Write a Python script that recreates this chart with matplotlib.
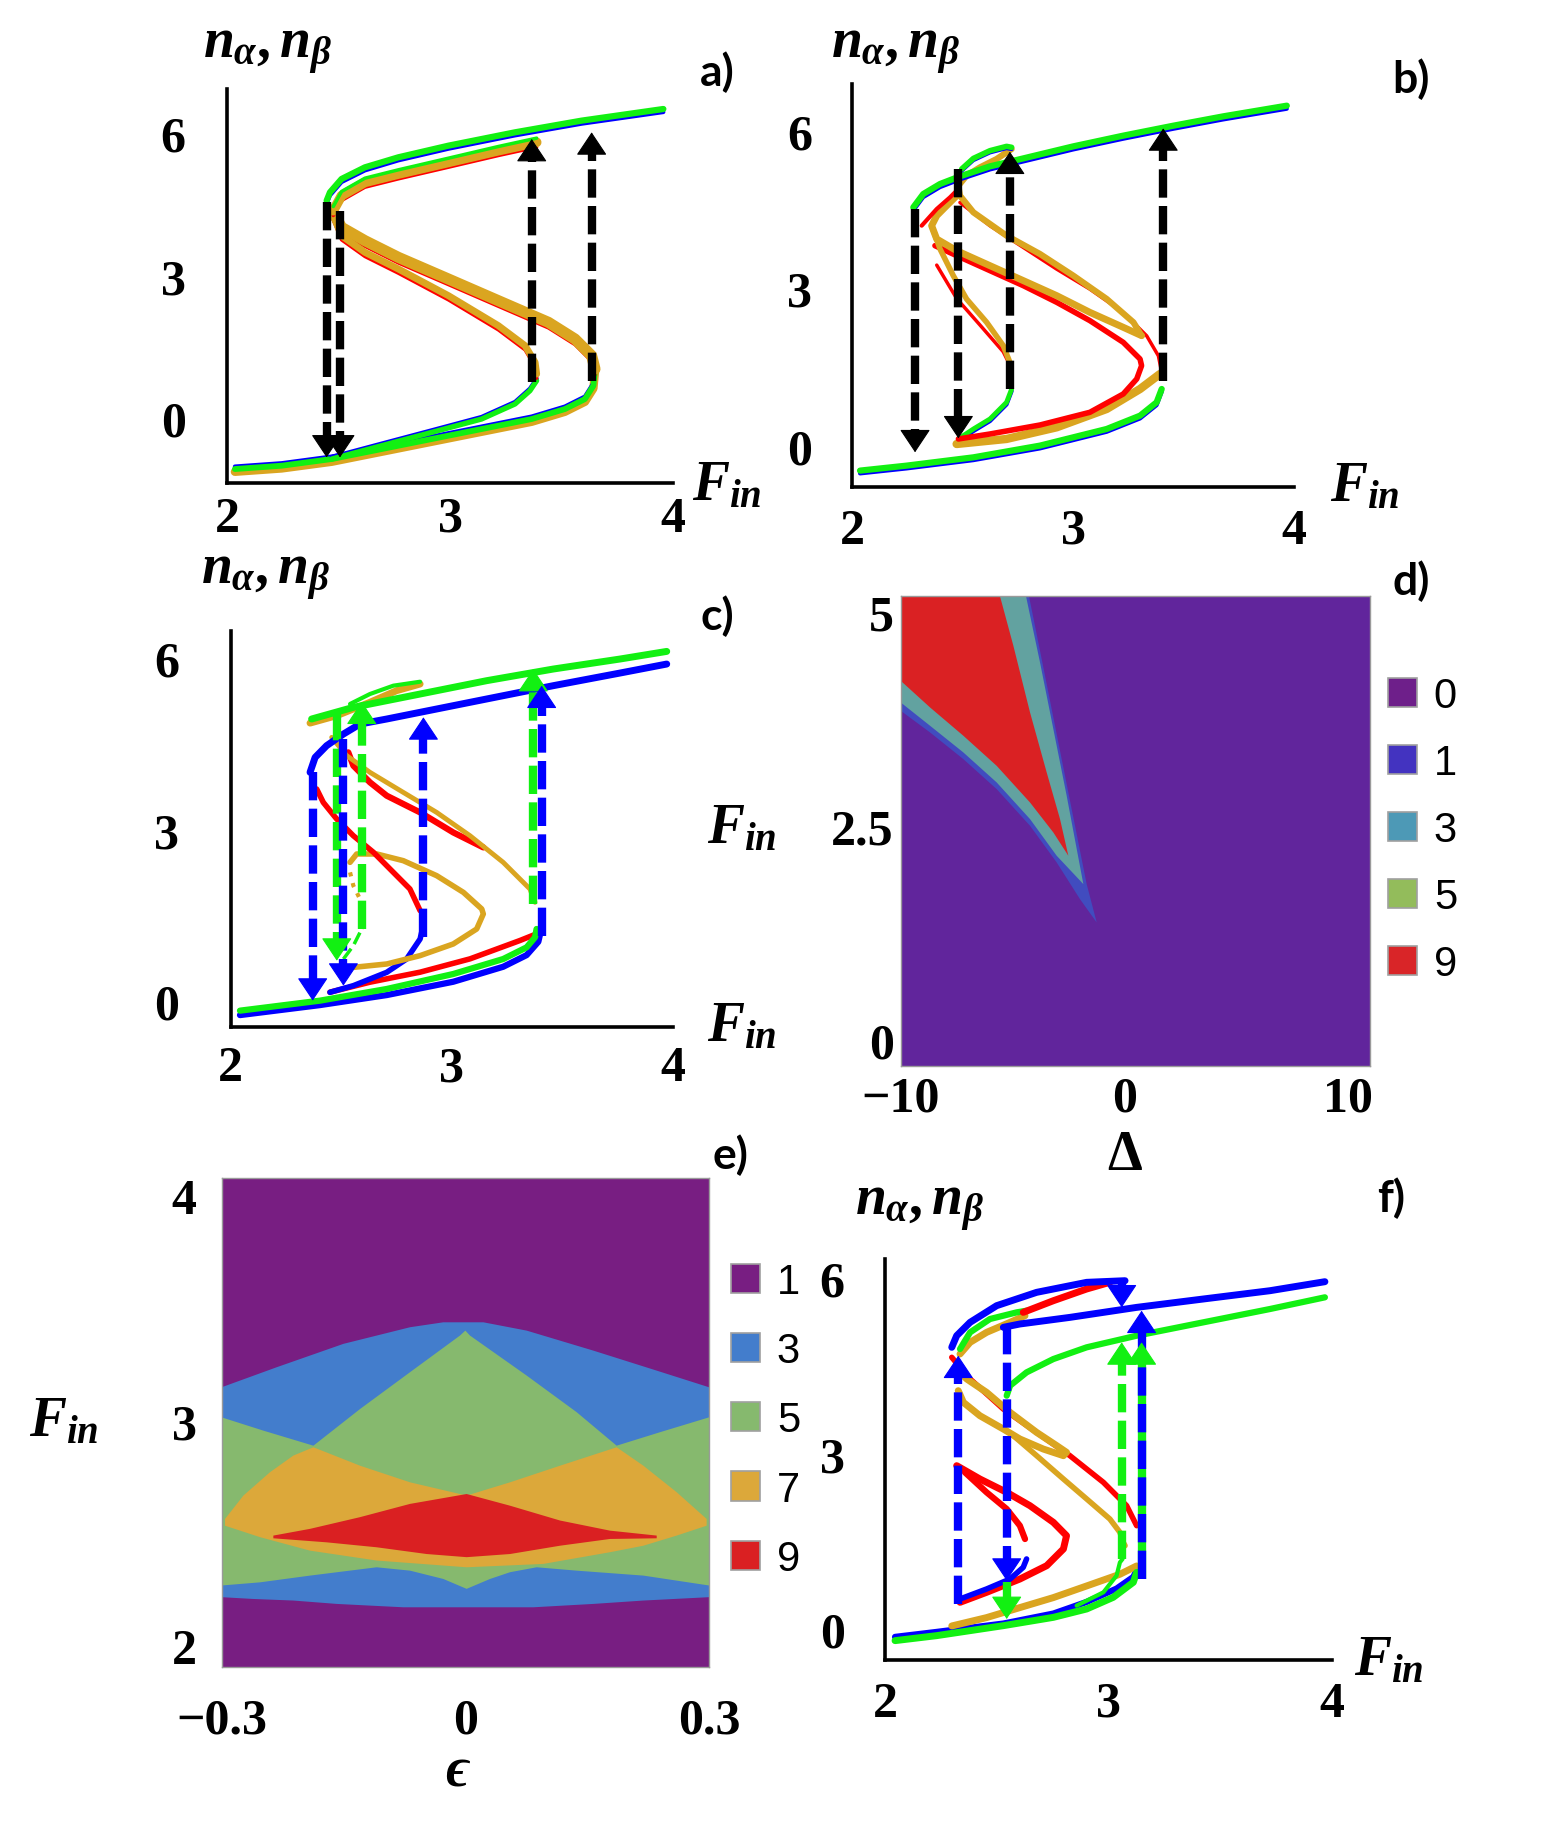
import matplotlib
matplotlib.use("Agg")
import matplotlib.pyplot as plt
import matplotlib.transforms as mtransforms
from matplotlib.patches import Patch

W, H = 1549, 1824
plt.rcParams['mathtext.fontset'] = 'custom'
plt.rcParams['mathtext.it'] = 'Liberation Serif:italic:bold'
plt.rcParams['mathtext.rm'] = 'Liberation Serif:bold'
plt.rcParams['mathtext.bf'] = 'Liberation Serif:bold'

GREEN = '#12F012'
BLUE = '#0000FF'
RED = '#FF0000'
ORANGE = '#DAA520'
BLACK = '#000000'

TICK_FONT = dict(fontsize=36, fontweight='bold', fontfamily='Liberation Serif')
LAB_SIZE = 40
LETTER = dict(fontsize=32, fontweight='bold', fontfamily='Lato')

# ---------------- panel a data (F_in, n) ----------------
a_up_out = ([2.446, 2.461, 2.513, 2.618, 2.768, 2.993, 3.292, 3.591, 3.958],
            [4.575, 4.751, 5.032, 5.277, 5.488, 5.733, 6.014, 6.26, 6.505])
a_up_in = ([2.476, 2.513, 2.618, 2.768, 2.993, 3.217, 3.389],
           [4.365, 4.681, 4.961, 5.137, 5.382, 5.628, 5.804])
a_mid_out = ([2.476, 2.513, 2.618, 2.768, 2.993, 3.217, 3.442, 3.561, 3.636, 3.651],
             [4.33, 4.014, 3.733, 3.382, 2.926, 2.47, 2.014, 1.663, 1.312, 1.032])
a_mid_in = ([2.476, 2.513, 2.618, 2.768, 2.993, 3.217, 3.337, 3.382, 3.389],
            [4.26, 3.839, 3.488, 3.137, 2.575, 1.944, 1.523, 1.172, 0.926])
a_low_out = ([2.034, 2.244, 2.469, 2.693, 2.918, 3.142, 3.367, 3.516, 3.606, 3.644, 3.651],
             [-1.074, -1.004, -0.863, -0.653, -0.442, -0.232, -0.021, 0.189, 0.4, 0.681, 1.032])
a_low_in = ([2.469, 2.693, 2.918, 3.142, 3.292, 3.359, 3.389],
            [-0.863, -0.582, -0.302, -0.021, 0.295, 0.575, 0.786])
a_arrows = [(2.446, 4.54, -0.83), (2.506, 4.365, -0.83), (3.367, 0.75, 5.874), (3.636, 0.786, 6.014)]

# ---------------- panel b data ----------------
b_up = ([2.276, 2.321, 2.397, 2.487, 2.623, 2.774, 3.0, 3.226, 3.453, 3.679, 3.966],
        [4.538, 4.792, 4.983, 5.129, 5.319, 5.471, 5.7, 5.904, 6.094, 6.272, 6.475])
b_loop = ([2.495, 2.548, 2.623, 2.698, 2.721], [5.269, 5.471, 5.618, 5.7, 5.682])
b_or1 = ([2.721, 2.653, 2.578, 2.517, 2.48, 2.487, 2.548, 2.698, 2.849, 3.0, 3.151, 3.272, 3.309],
         [5.65, 5.459, 5.3, 5.142, 4.951, 4.761, 4.443, 3.999, 3.65, 3.237, 2.793, 2.348, 2.094])
b_or2 = ([3.309, 3.226, 3.075, 2.925, 2.774, 2.623, 2.472, 2.382, 2.359, 2.382, 2.442, 2.48],
         [2.094, 2.253, 2.538, 2.856, 3.142, 3.427, 3.713, 3.935, 4.189, 4.38, 4.634, 4.792])
b_or3 = ([2.359, 2.397, 2.457, 2.517, 2.608, 2.683, 2.713],
         [4.189, 3.745, 3.237, 2.793, 2.348, 1.904, 1.586])
b_or4 = ([2.472, 2.698, 2.925, 3.151, 3.302, 3.392], [0.03, 0.126, 0.348, 0.697, 1.078, 1.364])
b_red1 = ([2.314, 2.382, 2.442, 2.487], [4.189, 4.507, 4.729, 4.919])
b_red2 = ([2.374, 2.472, 2.623, 2.774, 2.925, 3.075, 3.226, 3.302, 3.309, 3.287, 3.226, 3.075, 2.849, 2.623, 2.48],
          [3.808, 3.618, 3.332, 3.046, 2.729, 2.38, 1.967, 1.649, 1.522, 1.269, 0.983, 0.634, 0.392, 0.221, 0.126])
b_red3 = ([2.487, 2.623, 2.774, 2.925, 3.075, 3.226, 3.332, 3.385, 3.4],
          [4.697, 4.253, 3.84, 3.427, 3.046, 2.602, 2.157, 1.776, 1.459])
b_red4 = ([2.382, 2.472, 2.578, 2.683, 2.713], [3.491, 2.856, 2.348, 1.84, 1.586])
b_low = ([2.035, 2.246, 2.548, 2.849, 3.151, 3.302, 3.377, 3.4],
         [-0.477, -0.382, -0.224, -0.001, 0.316, 0.57, 0.824, 1.078])
b_low2 = ([2.48, 2.548, 2.623, 2.698, 2.721], [0.126, 0.316, 0.507, 0.824, 1.078])
b_arrows = [(2.284, 4.507, -0.128), (2.48, 5.269, 0.138), (2.713, 1.078, 5.599), (3.407, 1.237, 6.043)]

# ---------------- panel c data ----------------
c_green_up = ([2.366, 2.555, 2.857, 3.158, 3.46, 3.762, 3.973], [4.937, 5.141, 5.374, 5.607, 5.811, 5.986, 6.119])
c_orange_top = ([2.359, 2.48, 2.63, 2.751, 2.857], [4.866, 4.996, 5.229, 5.433, 5.549])
c_green_arc = ([2.54, 2.63, 2.736, 2.857], [5.2, 5.374, 5.52, 5.589])
c_blue_up = ([2.359, 2.382, 2.434, 2.51, 2.585, 2.706, 2.857, 3.158, 3.46, 3.762, 3.973],
             [4.005, 4.266, 4.471, 4.674, 4.849, 4.937, 5.054, 5.287, 5.52, 5.741, 5.898])
c_red1 = ([2.389, 2.419, 2.48, 2.555, 2.646, 2.736, 2.811, 2.857], [3.713, 3.479, 3.187, 2.896, 2.606, 2.256, 1.965, 1.587])
c_red2 = ([2.532, 2.555, 2.63, 2.706, 2.857, 3.007, 3.143], [4.354, 4.121, 3.83, 3.596, 3.304, 2.954, 2.692])
c_red_low = ([2.449, 2.63, 2.857, 3.083, 3.309, 3.384], [0.1, 0.275, 0.45, 0.683, 1.004, 1.12])
c_orange1 = ([2.457, 2.525, 2.63, 2.781, 2.932, 3.083, 3.233, 3.354, 3.377],
             [4.616, 4.296, 4.005, 3.654, 3.304, 2.896, 2.431, 1.965, 1.732])
c_orange2 = ([2.54, 2.57, 2.661, 2.781, 2.932, 3.053, 3.136, 3.143, 3.113, 3.007, 2.857, 2.706, 2.555],
             [2.431, 2.577, 2.577, 2.46, 2.198, 1.906, 1.616, 1.528, 1.266, 1.004, 0.8, 0.654, 0.595])
c_orange_dots = ([2.54, 2.555, 2.585, 2.6, 2.593], [2.256, 2.023, 1.79, 1.441, 1.266])
c_blue_low2 = ([2.449, 2.555, 2.706, 2.796, 2.857, 2.864], [0.159, 0.275, 0.508, 0.741, 1.091, 1.208])
c_blue_low = ([2.042, 2.404, 2.706, 3.007, 3.233, 3.339, 3.392, 3.399],
              [-0.191, -0.016, 0.159, 0.392, 0.654, 0.858, 1.091, 1.208])
c_green_low = ([2.042, 2.404, 2.706, 3.007, 3.233, 3.339, 3.377, 3.384],
               [-0.162, 0.013, 0.217, 0.479, 0.741, 0.945, 1.12, 1.266])
c_green_small = ([2.51, 2.555, 2.593], [0.741, 0.974, 1.266])
c_arrows_blue = [(2.371, 4.005, 0.013), (2.51, 4.587, 0.275), (2.872, 1.12, 4.967), (3.407, 1.149, 5.52)]
c_arrows_green = [(2.48, 5.054, 0.712), (2.593, 1.266, 5.24), (3.369, 1.703, 5.811)]

# ---------------- panel f data ----------------
f_blue_arc = ([2.299, 2.321, 2.381, 2.5, 2.679, 2.903, 3.075], [4.822, 5.021, 5.249, 5.534, 5.762, 5.933, 5.961])
f_red_up = ([2.619, 2.754, 2.903, 3.007], [5.42, 5.619, 5.819, 5.933])
f_green_arc = ([2.336, 2.381, 2.47, 2.59, 2.634], [4.793, 5.078, 5.306, 5.42, 5.448])
f_blue_main = ([2.53, 2.604, 2.828, 3.127, 3.425, 3.724, 3.97], [5.164, 5.221, 5.334, 5.505, 5.648, 5.79, 5.944])
f_green_main = ([2.545, 2.56, 2.634, 2.754, 2.903, 3.127, 3.425, 3.724, 3.97],
                [3.995, 4.166, 4.394, 4.622, 4.822, 5.021, 5.249, 5.477, 5.677])
f_orange1 = ([2.336, 2.381, 2.455, 2.56, 2.627], [4.708, 4.907, 5.078, 5.249, 5.363])
f_orange_loop = ([2.328, 2.351, 2.425, 2.53, 2.604, 2.709, 2.799, 2.813, 2.769, 2.679, 2.56, 2.455, 2.366, 2.336],
                 [4.081, 3.881, 3.653, 3.425, 3.255, 3.083, 2.97, 3.027, 3.141, 3.368, 3.71, 4.052, 4.281, 4.394])
f_orange_long = ([2.575, 2.679, 2.799, 2.903, 3.007, 3.052, 3.067, 3.075],
                 [3.311, 2.97, 2.571, 2.23, 1.887, 1.659, 1.488, 1.431])
f_orange_low = ([2.299, 2.455, 2.604, 2.754, 2.903, 3.052, 3.127], [0.035, 0.178, 0.349, 0.52, 0.719, 0.919, 1.061])
f_red1 = ([2.299, 2.381, 2.53, 2.679, 2.828, 2.978, 3.082, 3.127], [4.651, 4.281, 3.767, 3.368, 2.97, 2.514, 2.115, 1.773])
f_red2 = ([2.321, 2.425, 2.545, 2.649, 2.754, 2.813, 2.799, 2.724, 2.604, 2.455, 2.336],
          [2.799, 2.571, 2.343, 2.115, 1.83, 1.602, 1.375, 1.089, 0.861, 0.634, 0.463])
f_red3 = ([2.358, 2.455, 2.545, 2.604, 2.627], [2.685, 2.343, 2.058, 1.773, 1.545])
f_blue_low2 = ([2.336, 2.455, 2.56, 2.619, 2.634], [0.52, 0.691, 0.861, 1.061, 1.204])
f_blue_low = ([2.045, 2.231, 2.53, 2.754, 2.903, 3.037, 3.112, 3.127], [-0.164, -0.079, 0.064, 0.235, 0.434, 0.662, 0.861, 0.975])
f_green_low = ([2.045, 2.231, 2.53, 2.754, 2.903, 3.022, 3.112, 3.127], [-0.192, -0.107, 0.064, 0.206, 0.349, 0.548, 0.805, 0.975])
f_green_small = ([2.858, 2.978, 3.037, 3.052, 3.064], [0.406, 0.634, 0.919, 1.146, 1.204])
f_arrows_blue = [(2.328, 0.434, 4.679), (2.545, 5.192, 0.833), (3.06, 5.99, 5.505)]
f_arrows_green = [(2.545, 0.805, 0.178), (3.06, 1.204, 4.907)]
f_solid_green = (3.149, 0.861, 4.907)
f_blue_over = (3.149, 0.861, 5.448)

# ---------------- panel d (Delta, F_in) regions ----------------
d_colors = {'0': '#61259C', '1': '#414CBF', '3': '#62A2A0', '9': '#DA2123'}
d_legend_labels = ['0', '1', '3', '5', '9']
d_legend_colors = ['#6E1F8A', '#4333C0', '#4D99B6', '#93BC5B', '#D92528']
d_region1 = ([-10, -4.258, -3.661, -3.065, -2.468, -1.678, -1.23, -1.976, -3.02, -4.213, -5.705, -7.196, -8.688, -10],
             [5.18, 5.18, 4.408, 3.63, 2.851, 1.82, 1.372, 1.644, 2.073, 2.501, 2.929, 3.279, 3.591, 3.844])
d_region3 = ([-10, -4.392, -3.766, -3.169, -2.573, -1.827, -3.02, -4.213, -5.705, -7.196, -8.688, -10],
             [5.18, 5.18, 4.408, 3.63, 2.851, 1.82, 2.151, 2.579, 3.007, 3.357, 3.669, 3.941])
d_region9 = ([-10, -5.556, -4.959, -4.213, -3.468, -2.871, -2.498, -3.169, -4.213, -5.705, -7.196, -8.688, -10],
             [5.18, 5.18, 4.603, 3.824, 3.124, 2.579, 2.151, 2.423, 2.773, 3.201, 3.552, 3.883, 4.194])

# ---------------- panel e (epsilon, F_in) regions ----------------
e_legend_labels = ['1', '3', '5', '7', '9']
e_colors = ['#781E82', '#437DCC', '#86B96E', '#DCA83A', '#DA2022']
e_region3 = ([-0.3, -0.2323, -0.1502, -0.0681, -0.0271, 0.0222, 0.0755, 0.1576, 0.2356, 0.3,
              0.3, 0.2192, 0.1576, 0.0837, -0.0763, -0.1584, -0.2118, -0.261, -0.3],
             [3.149, 3.238, 3.342, 3.416, 3.438, 3.438, 3.401, 3.312, 3.223, 3.149,
              2.215, 2.200, 2.185, 2.170, 2.170, 2.185, 2.200, 2.207, 2.215])
e_region5 = ([-0.3, -0.2487, -0.1871, -0.1297, -0.0681, -0.0066, 0.0, 0.0057, 0.0755, 0.1371, 0.1863, 0.2397, 0.3,
              0.3, 0.2192, 0.1371, 0.0878, 0.055, 0.0304, 0.0016, -0.0271, -0.0681, -0.1092, -0.1912, -0.2528, -0.3],
             [3.015, 2.956, 2.889, 3.052, 3.216, 3.379, 3.401, 3.379, 3.201, 3.038, 2.889, 2.949, 3.015,
              2.267, 2.311, 2.333, 2.348, 2.326, 2.296, 2.252, 2.296, 2.333, 2.348, 2.311, 2.281, 2.267])
e_region7 = ([-0.2959, -0.2733, -0.2405, -0.2118, -0.1871, -0.1297, -0.0681, 0.0016, 0.055, 0.1166, 0.1863, 0.2192, 0.2602, 0.2971,
              0.2971, 0.2602, 0.2192, 0.1781, 0.0960, 0.0016, -0.1092, -0.1912, -0.2528, -0.2959],
             [2.563, 2.667, 2.771, 2.845, 2.882, 2.800, 2.726, 2.667, 2.726, 2.800, 2.882, 2.800, 2.682, 2.563,
              2.533, 2.489, 2.444, 2.415, 2.363, 2.348, 2.378, 2.422, 2.482, 2.533])
e_region9 = ([-0.2364, -0.1912, -0.1297, -0.0681, 0.0016, 0.055, 0.1166, 0.1781, 0.2356,
              0.2356, 0.1781, 0.1166, 0.055, 0.0016, -0.0476, -0.1092, -0.1707, -0.2364],
             [2.489, 2.519, 2.571, 2.630, 2.674, 2.622, 2.556, 2.511, 2.489,
              2.477, 2.474, 2.444, 2.407, 2.393, 2.407, 2.437, 2.459, 2.477])

fig = plt.figure(figsize=(W / 100, H / 100), dpi=100)


def axes_px(x0, y0, x1, y1):
    return fig.add_axes([x0 / W, 1 - y1 / H, (x1 - x0) / W, (y1 - y0) / H])


def ftext(x, y, s, **kw):
    kw.setdefault('ha', 'center')
    kw.setdefault('va', 'center')
    fig.text(x / W, 1 - y / H, s, **kw)


def line_axes(box, ylim, ypad, xpad):
    ax = axes_px(*box)
    ax.set_xlim(2, 4)
    ax.set_ylim(*ylim)
    for s in ['top', 'right']:
        ax.spines[s].set_visible(False)
    for s in ['left', 'bottom']:
        ax.spines[s].set_linewidth(2.6)
    ax.set_xticks([2, 3, 4], labels=['2', '3', '4'], **TICK_FONT)
    ax.set_yticks([0, 3, 6], labels=['0', '3', '6'], **TICK_FONT)
    ax.tick_params(axis='y', length=0, pad=ypad)
    ax.tick_params(axis='x', length=0, pad=xpad)
    ax.patch.set_alpha(0)
    return ax


def draw(ax, xy, color, lw, dy=0.0, z=3, ls='-'):
    tr = mtransforms.offset_copy(ax.transData, fig=fig, x=0, y=dy, units='points') if dy else ax.transData
    ax.plot(xy[0], xy[1], color=color, lw=lw, ls=ls, transform=tr, zorder=z,
            solid_capstyle='round', solid_joinstyle='round', clip_on=False)


def arrow(ax, F, n_from, n_to, color, dashed=True, lw=6.0, hw=20.0, hl=15.0, z=6, head=True, shaft=True):
    y0 = ax.transData.transform((F, 0.0))[1]
    y1 = ax.transData.transform((F, 1.0))[1]
    ppu = y1 - y0
    hl_d = hl * fig.dpi / 72.0 / ppu
    s = 1.0 if n_to > n_from else -1.0
    n_base = n_to - s * hl_d
    if shaft:
        if dashed:
            ax.plot([F, F], [n_from, n_base], color=color, lw=lw, dashes=(3.4, 1.0),
                    dash_capstyle='butt', zorder=z, clip_on=False)
        else:
            ax.plot([F, F], [n_from, n_base], color=color, lw=lw, solid_capstyle='butt', zorder=z, clip_on=False)
    if head:
        ax.annotate('', xy=(F, n_to), xytext=(F, n_base), annotation_clip=False,
                    arrowprops=dict(arrowstyle='-|>,head_length=%.3f,head_width=%.3f' % (hl / 10, hw / 20),
                                    color=color, lw=0.8, mutation_scale=10, shrinkA=0, shrinkB=0), zorder=z + 1)


nlab = r'$n_{\alpha}, n_{\beta}$'
flab = r'$F_{in}$'

# ================= panel a =================
ax = line_axes((227.3, 90, 672.7, 484), (-1.368, 6.926), 30, 9)
draw(ax, a_low_out, ORANGE, 6, dy=-2.0)
draw(ax, a_low_out, BLUE, 3, dy=1.8)
draw(ax, a_low_out, GREEN, 4.2)
draw(ax, a_low_in, BLUE, 3, dy=1.5)
draw(ax, a_low_in, GREEN, 3.8)
draw(ax, a_up_out, BLUE, 3, dy=-2.2)
draw(ax, a_up_out, GREEN, 4.5)
draw(ax, a_mid_out, RED, 2.5, dy=-4.0)
draw(ax, a_mid_out, ORANGE, 8)
draw(ax, a_mid_in, RED, 2.5, dy=-3.0)
draw(ax, a_mid_in, ORANGE, 5)
draw(ax, a_up_in, RED, 2.5, dy=-3.5)
draw(ax, a_up_in, ORANGE, 7)
draw(ax, a_up_in, GREEN, 2.5, dy=3.0)
for F, n0, n1 in a_arrows:
    arrow(ax, F, n0, n1, BLACK)
ftext(267, 50, nlab, fontsize=LAB_SIZE)
ftext(727, 485, flab, fontsize=LAB_SIZE)
ftext(717, 72, 'a)', **LETTER)

# ================= panel b =================
ax = line_axes((852.3, 85, 1294.3, 488), (-0.789, 6.888), 29, 15)
draw(ax, b_low, BLUE, 3, dy=-2.0)
draw(ax, b_low, GREEN, 4.5)
draw(ax, b_low2, BLUE, 3, dy=-1.5)
draw(ax, b_low2, GREEN, 3.5)
draw(ax, b_or4, ORANGE, 6)
draw(ax, b_red2, RED, 4)
draw(ax, b_red3, RED, 2.5, dy=-2.5)
draw(ax, b_or1, ORANGE, 4.5)
draw(ax, b_or2, ORANGE, 5)
draw(ax, b_red4, RED, 2.5, dy=-2.0)
draw(ax, b_or3, ORANGE, 4)
draw(ax, b_red1, RED, 3)
draw(ax, b_up, BLUE, 3, dy=-2.2)
draw(ax, b_up, GREEN, 4.5)
draw(ax, b_loop, BLUE, 2.5, dy=-1.5)
draw(ax, b_loop, GREEN, 4)
for F, n0, n1 in b_arrows:
    arrow(ax, F, n0, n1, BLACK)
ftext(895, 50, nlab, fontsize=LAB_SIZE)
ftext(1365, 486, flab, fontsize=LAB_SIZE)
ftext(1411, 79, 'b)', **LETTER)

# ================= panel c =================
ax = line_axes((230.7, 631.7, 672.7, 1028.3), (-0.453, 6.481), 37, 13)
draw(ax, c_blue_low, BLUE, 4.5, dy=-2.0)
draw(ax, c_red_low, RED, 4, dy=2.5)
draw(ax, c_green_low, GREEN, 4.5)
draw(ax, c_blue_low2, BLUE, 4)
draw(ax, c_orange2, ORANGE, 4)
draw(ax, c_orange_dots, ORANGE, 3, ls=':')
draw(ax, c_red1, RED, 4)
draw(ax, c_red2, RED, 4.5)
draw(ax, c_orange1, ORANGE, 3.5)
draw(ax, c_green_small, GREEN, 2.5, ls='--')
draw(ax, c_blue_up, BLUE, 5)
draw(ax, c_orange_top, ORANGE, 5)
draw(ax, c_green_arc, GREEN, 3)
draw(ax, c_green_up, GREEN, 5)
for F, n0, n1 in c_arrows_green:
    arrow(ax, F, n0, n1, GREEN)
for F, n0, n1 in c_arrows_blue:
    arrow(ax, F, n0, n1, BLUE)
ftext(265, 576, nlab, fontsize=LAB_SIZE)
ftext(742, 1026, flab, fontsize=LAB_SIZE)
ftext(717, 616, 'c)', **LETTER)

# ================= panel f =================
ax = line_axes((885, 1260, 1331.6, 1660.7), (-0.518, 6.332), 29, 15)
draw(ax, f_blue_low, BLUE, 4.5, dy=1.5)
draw(ax, f_orange_low, ORANGE, 5, dy=1.0)
draw(ax, f_green_low, GREEN, 5)
draw(ax, f_green_small, GREEN, 3)
draw(ax, f_red2, RED, 5)
draw(ax, f_red3, RED, 4.5)
draw(ax, f_blue_low2, BLUE, 4)
draw(ax, f_orange_long, ORANGE, 4)
draw(ax, f_red1, RED, 4)
draw(ax, f_orange_loop, ORANGE, 5)
draw(ax, f_orange1, ORANGE, 5)
draw(ax, f_green_main, GREEN, 4.5)
draw(ax, f_blue_main, BLUE, 5)
draw(ax, f_green_arc, GREEN, 4.5)
draw(ax, f_red_up, RED, 5)
draw(ax, f_blue_arc, BLUE, 5)
arrow(ax, *f_solid_green, GREEN, dashed=False, head=False)
arrow(ax, *f_blue_over, BLUE, z=7)
arrow(ax, *f_solid_green, GREEN, shaft=False, z=9)
for F, n0, n1 in f_arrows_green:
    arrow(ax, F, n0, n1, GREEN)
for F, n0, n1 in f_arrows_blue:
    arrow(ax, F, n0, n1, BLUE, z=7)
ftext(919, 1207, nlab, fontsize=LAB_SIZE)
ftext(1389, 1660, flab, fontsize=LAB_SIZE)
ftext(1391, 1198, 'f)', **LETTER)

# ================= panel d =================
ax = axes_px(900.7, 597.3, 1370, 1066.7)
ax.set_xlim(-10, 11)
ax.set_ylim(-0.3, 5.18)
ax.set_facecolor(d_colors['0'])
ax.fill(*d_region1, color=d_colors['1'], lw=0)
ax.fill(*d_region3, color=d_colors['3'], lw=0)
ax.fill(*d_region9, color=d_colors['9'], lw=0)
for s in ax.spines.values():
    s.set_color('#9A9A9A')
    s.set_linewidth(1.0)
ax.set_xticks([-10, 0, 10], labels=['\u221210', '0', '10'], **TICK_FONT)
ax.set_yticks([0, 2.5, 5], labels=['0', '2.5', '5'], **TICK_FONT)
ax.tick_params(axis='y', length=0, pad=5)
ax.tick_params(axis='x', length=0, pad=7)
ftext(742, 828, flab, fontsize=LAB_SIZE)
ftext(1124.6, 1155, r'$\mathbf{\Delta}$', fontsize=LAB_SIZE)
ftext(1411, 581, 'd)', **LETTER)
fig.legend(handles=[Patch(facecolor=c, edgecolor='#A0A0A0', lw=1.2) for c in d_legend_colors],
           labels=d_legend_labels, loc='upper left', bbox_to_anchor=(1388 / W, 1 - 677 / H),
           frameon=False, prop=dict(family='Liberation Sans', size=30), handlelength=0.7, handleheight=0.7,
           handletextpad=0.4, labelspacing=0.65, borderpad=0, borderaxespad=0)

# ================= panel e =================
ax = axes_px(221.7, 1179, 709, 1668.3)
ax.set_xlim(-0.3, 0.3)
ax.set_ylim(1.903, 4.080)
ax.set_facecolor(e_colors[0])
ax.fill(*e_region3, color=e_colors[1], lw=0)
ax.fill(*e_region5, color=e_colors[2], lw=0)
ax.fill(*e_region7, color=e_colors[3], lw=0)
ax.fill(*e_region9, color=e_colors[4], lw=0)
for s in ax.spines.values():
    s.set_color('#9A9A9A')
    s.set_linewidth(1.0)
ax.set_xticks([-0.3, 0, 0.3], labels=['\u22120.3', '0', '0.3'], **TICK_FONT)
ax.set_yticks([2, 3, 4], labels=['2', '3', '4'], **TICK_FONT)
ax.tick_params(axis='y', length=0, pad=18)
ax.tick_params(axis='x', length=0, pad=22)
ftext(64, 1421, flab, fontsize=LAB_SIZE)
ftext(457, 1773, '\u03f5', fontsize=LAB_SIZE, fontweight='bold', fontstyle='italic',
      fontfamily=['Liberation Serif', 'DejaVu Serif', 'DejaVu Sans'])
ftext(730, 1155, 'e)', **LETTER)
fig.legend(handles=[Patch(facecolor=c, edgecolor='#A0A0A0', lw=1.2) for c in e_colors],
           labels=e_legend_labels, loc='upper left', bbox_to_anchor=(731 / W, 1 - 1263 / H),
           frameon=False, prop=dict(family='Liberation Sans', size=30), handlelength=0.7, handleheight=0.7,
           handletextpad=0.4, labelspacing=0.70, borderpad=0, borderaxespad=0)

fig.savefig('out.png', dpi=100)
